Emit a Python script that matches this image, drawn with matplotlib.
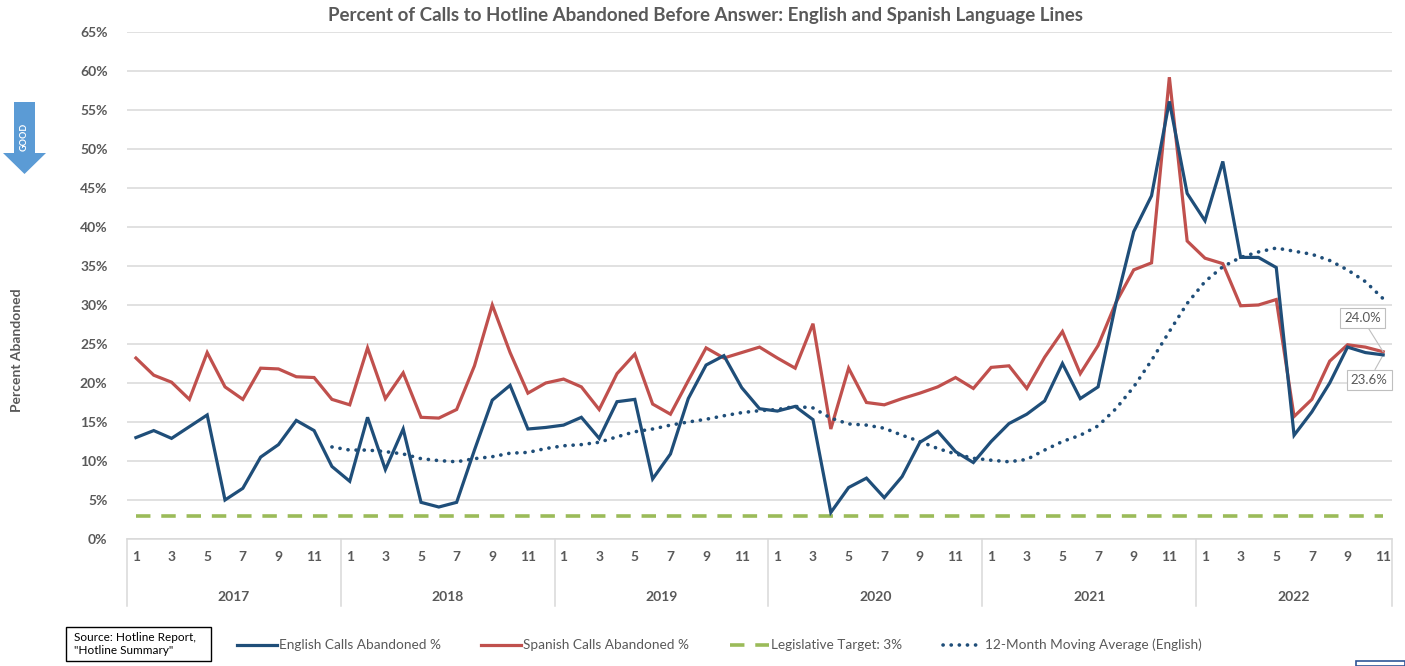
import matplotlib
matplotlib.use("Agg")
import matplotlib.pyplot as plt
import matplotlib.transforms as mtransforms
from matplotlib.lines import Line2D
from matplotlib.patches import Polygon, Rectangle

plt.rcParams["font.family"] = ["Lato", "DejaVu Sans"]

years = ["2017", "2018", "2019", "2020", "2021", "2022"]
months_per_year = [12, 12, 12, 12, 12, 11]

# English calls abandoned (%), Jan 2017 - Nov 2022
english = [
    13.0, 13.9, 12.9, 14.4, 15.9, 5.0, 6.5, 10.5, 12.1, 15.2, 13.9, 9.3,
    7.4, 15.6, 8.9, 14.1, 4.7, 4.1, 4.7, 11.4, 17.8, 19.7, 14.1, 14.3,
    14.6, 15.6, 12.9, 17.6, 17.9, 7.7, 10.9, 18.0, 22.3, 23.5, 19.4, 16.7,
    16.4, 17.0, 15.3, 3.4, 6.6, 7.8, 5.3, 8.0, 12.4, 13.8, 11.2, 9.8,
    12.5, 14.8, 16.0, 17.7, 22.5, 18.0, 19.5, 30.2, 39.4, 44.0, 56.1, 44.3,
    40.8, 48.4, 36.1, 36.1, 34.8, 13.3, 16.3, 20.0, 24.6, 23.9, 23.6,
]

# Spanish calls abandoned (%)
spanish = [
    23.2, 21.0, 20.1, 17.9, 23.9, 19.5, 17.9, 21.9, 21.8, 20.8, 20.7, 17.9,
    17.2, 24.5, 18.0, 21.3, 15.6, 15.5, 16.6, 22.2, 30.0, 23.9, 18.7, 20.0,
    20.5, 19.5, 16.6, 21.2, 23.7, 17.3, 16.0, 20.3, 24.5, 23.2, 23.9, 24.6,
    23.2, 21.9, 27.6, 14.1, 21.9, 17.5, 17.2, 18.0, 18.7, 19.5, 20.7, 19.3,
    22.0, 22.2, 19.3, 23.3, 26.6, 21.2, 24.8, 30.3, 34.5, 35.4, 59.2, 38.2,
    36.0, 35.3, 29.9, 30.0, 30.7, 15.7, 17.9, 22.8, 24.9, 24.6, 24.0,
]

# 12-month moving average (English), Dec 2017 - Nov 2022
moving_avg = [
    11.8,
    11.4, 11.4, 11.2, 10.9, 10.3, 10.05, 9.9, 10.3, 10.55, 11.0, 11.1, 11.6,
    11.95, 12.1, 12.4, 13.1, 13.75, 14.1, 14.6, 15.0, 15.35, 15.8, 16.2, 16.45,
    16.6, 17.0, 16.8, 15.5, 14.75, 14.6, 14.2, 13.3, 12.5, 11.6, 10.9, 10.35,
    10.1, 9.9, 10.2, 11.4, 12.5, 13.3, 14.5, 16.7, 19.5, 22.9, 26.6, 30.2,
    33.0, 34.9, 36.1, 36.8, 37.3, 36.9, 36.5, 35.7, 34.5, 33.0, 30.8,
]

target = 3.0

BLUE = "#1F4E79"
RED = "#C0504D"
GREEN = "#9BBB59"
GRAY = "#595959"

n = len(english)
x = list(range(n))
month_labels = []
for count in months_per_year:
    for m in range(1, count + 1):
        month_labels.append(str(m) if m % 2 == 1 else "")

fig = plt.figure(figsize=(14.05, 6.66), dpi=100)
ax = fig.add_axes([0.0904, 0.1907, 0.9004, 0.7613])

ax.plot(x, english, color=BLUE, lw=2.3, solid_joinstyle="miter", zorder=4)
ax.plot(x, spanish, color=RED, lw=2.3, solid_joinstyle="miter", zorder=3)
ax.plot(x, [target] * n, color=GREEN, lw=2.6, linestyle=(0, (4, 3)), zorder=2)
ax.plot(x[n - len(moving_avg):], moving_avg, color=BLUE, lw=2.6,
        linestyle=(0, (0.05, 2.2)), dash_capstyle="round", zorder=5)

ax.set_xlim(-0.5, n - 0.5)
ax.set_ylim(0, 65)
ax.set_yticks(range(0, 66, 5))
ax.set_yticklabels([f"{v}%" for v in range(0, 66, 5)])
ax.grid(axis="y", color="#D9D9D9", lw=1.1)
ax.set_axisbelow(True)
for s in ["top", "right", "left"]:
    ax.spines[s].set_visible(False)
ax.spines["bottom"].set_color("#D9D9D9")
ax.spines["bottom"].set_linewidth(1.1)

ax.set_xticks(x)
ax.set_xticklabels(month_labels)
ax.tick_params(axis="x", length=0, pad=9, labelsize=10, labelcolor=GRAY)
ax.tick_params(axis="y", length=0, pad=14, labelsize=10, labelcolor=GRAY)
for lbl in ax.get_xticklabels() + ax.get_yticklabels():
    lbl.set_fontweight("bold")

# year group labels and separators
trans = mtransforms.blended_transform_factory(ax.transData, ax.transAxes)
start = 0
edges = [-0.5]
for yr, count in zip(years, months_per_year):
    center = start + (count - 1) / 2
    ax.text(center, -0.114, yr, transform=trans, ha="center", va="center",
            fontsize=10, fontweight="bold", color=GRAY)
    start += count
    edges.append(start - 0.5)
for e in edges:
    ax.add_line(Line2D([e, e], [0, -0.132], transform=trans, color="#D9D9D9",
                       lw=1.1, clip_on=False))

# end-point data labels
last = n - 1
box = dict(boxstyle="square,pad=0.3", fc="white", ec="#BFBFBF", lw=0.8)
line = dict(arrowstyle="-", color="#BFBFBF", lw=0.8, shrinkA=0, shrinkB=0)
ax.annotate(f"{spanish[-1]:.1f}%", xy=(last, spanish[-1]), xytext=(-15, 24),
            textcoords="offset points", ha="center", va="center", fontsize=9.5,
            color=GRAY, bbox=box, arrowprops=line)
ax.annotate(f"{english[-1]:.1f}%", xy=(last, english[-1]), xytext=(-10, -18),
            textcoords="offset points", ha="center", va="center", fontsize=9.5,
            color=GRAY, bbox=box, arrowprops=line)

fig.text(0.502, 0.976, "Percent of Calls to Hotline Abandoned Before Answer: "
         "English and Spanish Language Lines", ha="center", va="center",
         fontsize=13.5, fontweight="bold", color=GRAY)
fig.text(17 / 1405, 1 - 350 / 666, "Percent Abandoned", rotation=90,
         ha="center", va="center", fontsize=10, fontweight="bold", color=GRAY)

# "GOOD" arrow
W, H = 1405.0, 666.0
pts = [(14, 102), (35, 102), (35, 153), (46, 153), (24.5, 174), (3, 153), (14, 153)]
fig.patches.append(Polygon([(px / W, 1 - py / H) for px, py in pts], closed=True,
                           transform=fig.transFigure, fc="#5B9BD5", ec="none"))
fig.text(24.5 / W, 1 - 137 / H, "GOOD", rotation=90, ha="center", va="center",
         fontsize=6.5, fontweight="bold", color="white")

# source box
fig.text(74 / W, 1 - 644 / H, "Source: Hotline Report,\n\"Hotline Summary\"",
         ha="left", va="center", fontsize=8.5, color="black", linespacing=1.15)
fig.patches.append(Rectangle((66 / W, 1 - 661 / H), 145 / W, 34 / H,
                             transform=fig.transFigure, fc="none", ec="black", lw=1.0))

handles = [
    Line2D([], [], color=BLUE, lw=2.3),
    Line2D([], [], color=RED, lw=2.3),
    Line2D([], [], color=GREEN, lw=2.6, linestyle=(0, (4, 3))),
    Line2D([], [], color=BLUE, lw=2.6, linestyle=(0, (0.05, 2.2)), dash_capstyle="round"),
]
labels = ["English Calls Abandoned %", "Spanish Calls Abandoned %",
          "Legislative Target: 3%", "12-Month Moving Average (English)"]
leg = fig.legend(handles, labels, loc="center", bbox_to_anchor=(0.512, 1 - 645 / H),
                 ncol=4, frameon=False, fontsize=9.8, handlelength=2.9,
                 handletextpad=0.15, columnspacing=3.0)
for t in leg.get_texts():
    t.set_color(GRAY)

fig.patches.append(Rectangle((1356 / W, 0), 49 / W, 5 / H, transform=fig.transFigure,
                             fc="none", ec="#2F5597", lw=1.2))

fig.savefig("out.png", dpi=100)
